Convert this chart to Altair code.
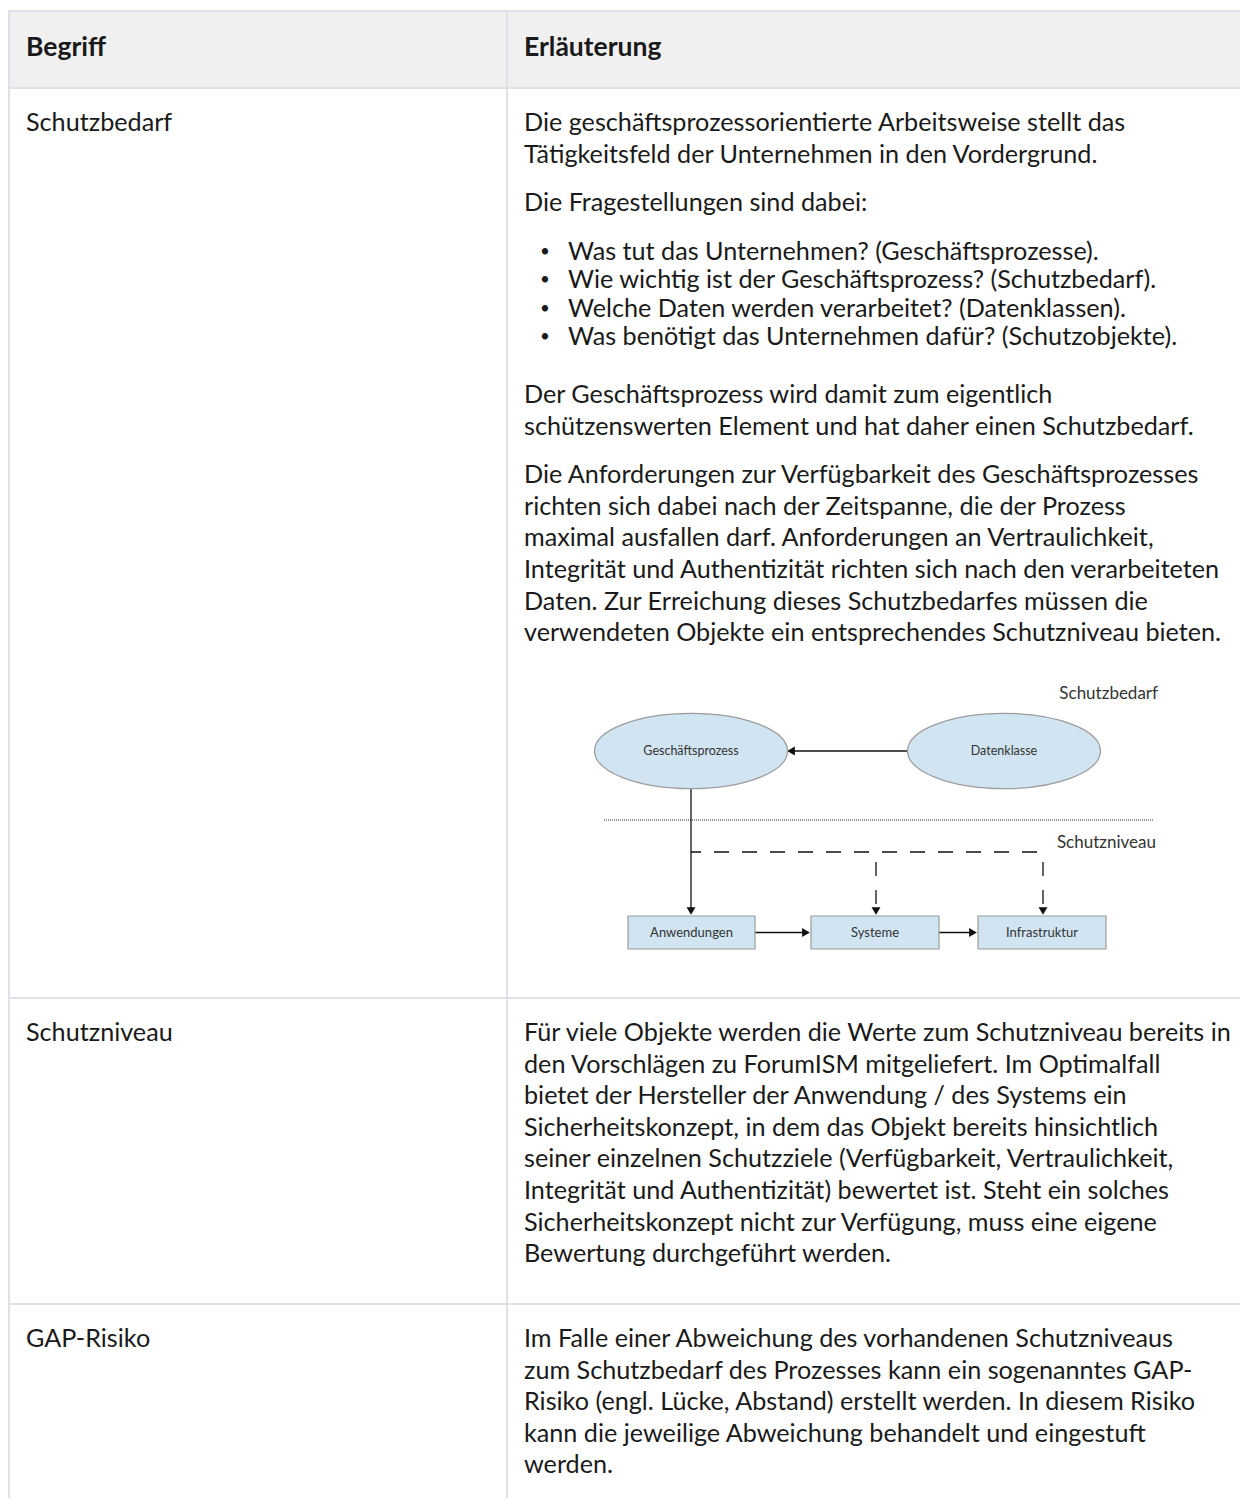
import altair as alt
import pandas as pd

# ---------------- content ----------------
header = ["Begriff", "Erläuterung"]
terms = ["Schutzbedarf", "Schutzniveau", "GAP-Risiko"]

row1_intro = [
    ["Die geschäftsprozessorientierte Arbeitsweise stellt das",
     "Tätigkeitsfeld der Unternehmen in den Vordergrund."],
    ["Die Fragestellungen sind dabei:"],
]
row1_bullets = [
    "Was tut das Unternehmen? (Geschäftsprozesse).",
    "Wie wichtig ist der Geschäftsprozess? (Schutzbedarf).",
    "Welche Daten werden verarbeitet? (Datenklassen).",
    "Was benötigt das Unternehmen dafür? (Schutzobjekte).",
]
row1_outro = [
    ["Der Geschäftsprozess wird damit zum eigentlich",
     "schützenswerten Element und hat daher einen Schutzbedarf."],
    ["Die Anforderungen zur Verfügbarkeit des Geschäftsprozesses",
     "richten sich dabei nach der Zeitspanne, die der Prozess",
     "maximal ausfallen darf. Anforderungen an Vertraulichkeit,",
     "Integrität und Authentizität richten sich nach den verarbeiteten",
     "Daten. Zur Erreichung dieses Schutzbedarfes müssen die",
     "verwendeten Objekte ein entsprechendes Schutzniveau bieten."],
]
row2_lines = [
    "Für viele Objekte werden die Werte zum Schutzniveau bereits in",
    "den Vorschlägen zu ForumISM mitgeliefert. Im Optimalfall",
    "bietet der Hersteller der Anwendung / des Systems ein",
    "Sicherheitskonzept, in dem das Objekt bereits hinsichtlich",
    "seiner einzelnen Schutzziele (Verfügbarkeit, Vertraulichkeit,",
    "Integrität und Authentizität) bewertet ist. Steht ein solches",
    "Sicherheitskonzept nicht zur Verfügung, muss eine eigene",
    "Bewertung durchgeführt werden.",
]
row3_lines = [
    "Im Falle einer Abweichung des vorhandenen Schutzniveaus",
    "zum Schutzbedarf des Prozesses kann ein sogenanntes GAP-",
    "Risiko (engl. Lücke, Abstand) erstellt werden. In diesem Risiko",
    "kann die jeweilige Abweichung behandelt und eingestuft",
    "werden.",
]

# diagram content
diagram_levels = ["Schutzbedarf", "Schutzniveau"]
ellipse_nodes = ["Geschäftsprozess", "Datenklasse"]
box_nodes = ["Anwendungen", "Systeme", "Infrastruktur"]

# ---------------- layout (page pixels) ----------------
W, H = 1232, 1490
X0, Y0 = 8, 8
TABLE_RIGHT = X0 + W
row_edges = [10, 88, 998, 1304, Y0 + H]
col_div = 507
LEFT_TX, RIGHT_TX = 26, 524
BULLET_X, BULLET_TX = 540, 568
FIRST = 35
LH, GAP, LIST_LH, LIST_AFTER = 31.6, 17.0, 28.5, 26.1

FONT = "Lato"
FS = 25.2
HFS = 26.5
TXT = "#1a1a1a"
BORDER = "#dfe1e6"

xs = alt.Scale(domain=[X0, X0 + W], nice=False, zero=False)
ys = alt.Scale(domain=[Y0, Y0 + H], reverse=True, nice=False, zero=False)
X = lambda f="x": alt.X(f"{f}:Q", scale=xs, axis=None)
Y = lambda f="y": alt.Y(f"{f}:Q", scale=ys, axis=None)

# ---------------- build body text ----------------
body = []
bullets = []
# row 1
y = row_edges[1] + FIRST
for pi, para in enumerate(row1_intro):
    if pi > 0:
        y += LH + GAP
    for li, line in enumerate(para):
        if li > 0:
            y += LH
        body.append({"text": line, "x": RIGHT_TX, "y": y})
y += LH + GAP
for bi, line in enumerate(row1_bullets):
    if bi > 0:
        y += LIST_LH
    body.append({"text": line, "x": BULLET_TX, "y": y})
    bullets.append({"text": "•", "x": BULLET_X, "y": y})
y += LH + LIST_AFTER
for pi, para in enumerate(row1_outro):
    if pi > 0:
        y += LH + GAP
    for li, line in enumerate(para):
        if li > 0:
            y += LH
        body.append({"text": line, "x": RIGHT_TX, "y": y})
# rows 2, 3
for top, lines in [(row_edges[2], row2_lines), (row_edges[3], row3_lines)]:
    for li, line in enumerate(lines):
        body.append({"text": line, "x": RIGHT_TX, "y": top + FIRST + li * LH})
# left column terms
for ri, term in enumerate(terms):
    body.append({"text": term, "x": LEFT_TX, "y": row_edges[ri + 1] + FIRST})

body_df = pd.DataFrame(body)
bullet_df = pd.DataFrame(bullets)
head_df = pd.DataFrame({"text": header, "x": [LEFT_TX, RIGHT_TX],
                        "y": [(row_edges[0] + row_edges[1]) / 2 - 1] * 2})

# ---------------- table chrome ----------------
head_bg = pd.DataFrame({"x": [X0], "x2": [TABLE_RIGHT], "y": [row_edges[0]], "y2": [row_edges[1]]})
hlines = pd.DataFrame({"x": [X0] * 4, "x2": [TABLE_RIGHT] * 4,
                       "y": [row_edges[0] + 1, row_edges[1], row_edges[2], row_edges[3]]})
hlines["y2"] = hlines["y"]
vlines = pd.DataFrame({"x": [X0 + 1, col_div], "y": [row_edges[0], row_edges[0]],
                       "y2": [row_edges[4], row_edges[4]]})
vlines["x2"] = vlines["x"]

# ---------------- diagram ----------------
ell_cy = 751
ell_df = pd.DataFrame({"text": ellipse_nodes, "x": [691, 1004], "y": [ell_cy, ell_cy]})
box_y1, box_y2 = 916, 949
box_df = pd.DataFrame({"text": box_nodes, "x": [628, 811, 978], "x2": [755, 939, 1106],
                       "y": [box_y1] * 3, "y2": [box_y2] * 3})
box_df["cx"] = (box_df["x"] + box_df["x2"]) / 2
box_df["cy"] = (box_y1 + box_y2) / 2
level_df = pd.DataFrame({"text": diagram_levels, "x": [1158, 1156], "y": [694, 843]})

solid_df = pd.DataFrame({
    "x": [908, 691, 755, 939], "x2": [792, 691, 805, 972],
    "y": [751, 789, 932.5, 932.5], "y2": [751, 910, 932.5, 932.5]})
dash_h = pd.DataFrame({"x": [691], "x2": [1043], "y": [852], "y2": [852]})
dash_v = pd.DataFrame({"x": [876, 1043], "x2": [876, 1043], "y": [862, 862], "y2": [908, 908]})
dotted = pd.DataFrame({"x": [604], "x2": [1153], "y": [820], "y2": [820]})
heads = pd.DataFrame({
    "x": [791, 691, 876, 1043, 806, 973],
    "y": [751, 911, 911, 911, 932.5, 932.5],
    "shape": ["triangle-left", "triangle-down", "triangle-down", "triangle-down",
              "triangle-right", "triangle-right"]})

k = 0.39
c = 0.5523
ellipse_path = (f"M-1,0 C-1,{-c*k:.4f} {-c:.4f},{-k} 0,{-k} "
                f"C{c:.4f},{-k} 1,{-c*k:.4f} 1,0 "
                f"C1,{c*k:.4f} {c:.4f},{k} 0,{k} "
                f"C{-c:.4f},{k} -1,{c*k:.4f} -1,0 Z")

NODE_FILL = "#d0e4f2"
NODE_STROKE = "#9c9c9c"
DFONT = "Lato"

layers = [
    alt.Chart(head_bg).mark_rect(color="#f0f0f0").encode(x=X(), x2="x2:Q", y=Y(), y2="y2:Q"),
    alt.Chart(hlines).mark_rule(color=BORDER, strokeWidth=2).encode(x=X(), x2="x2:Q", y=Y(), y2="y2:Q"),
    alt.Chart(vlines).mark_rule(color=BORDER, strokeWidth=2).encode(x=X(), x2="x2:Q", y=Y(), y2="y2:Q"),
    alt.Chart(head_df).mark_text(align="left", baseline="middle", font=FONT, fontSize=HFS,
                                 fontWeight="bold", color=TXT).encode(x=X(), y=Y(), text="text:N"),
    alt.Chart(body_df).mark_text(align="left", baseline="middle", font=FONT, fontSize=FS,
                                 color=TXT).encode(x=X(), y=Y(), text="text:N"),
    alt.Chart(bullet_df).mark_text(align="left", baseline="middle", font=FONT, fontSize=17,
                                   color=TXT).encode(x=X(), y=Y(), text="text:N"),
    # diagram
    alt.Chart(dotted).mark_rule(color="#333333", strokeWidth=1, strokeDash=[1, 1]).encode(
        x=X(), x2="x2:Q", y=Y(), y2="y2:Q"),
    alt.Chart(solid_df).mark_rule(color="#111111", strokeWidth=1.3).encode(
        x=X(), x2="x2:Q", y=Y(), y2="y2:Q"),
    alt.Chart(dash_h).mark_rule(color="#111111", strokeWidth=1.3, strokeDash=[15, 13],
                                strokeDashOffset=5).encode(x=X(), x2="x2:Q", y=Y(), y2="y2:Q"),
    alt.Chart(dash_v).mark_rule(color="#111111", strokeWidth=1.3, strokeDash=[14, 14]).encode(
        x=X(), x2="x2:Q", y=Y(), y2="y2:Q"),
    alt.Chart(heads).mark_point(filled=True, color="#111111", opacity=1, size=80).encode(
        x=X(), y=Y(), shape=alt.Shape("shape:N", scale=None, legend=None)),
    alt.Chart(ell_df).mark_point(shape=ellipse_path, size=193 * 193, filled=True,
                                 fill=NODE_FILL, stroke=NODE_STROKE, strokeWidth=1.2,
                                 opacity=1, fillOpacity=1).encode(x=X(), y=Y()),
    alt.Chart(box_df).mark_rect(fill=NODE_FILL, stroke=NODE_STROKE, strokeWidth=1.2).encode(
        x=X(), x2="x2:Q", y=Y(), y2="y2:Q"),
    alt.Chart(ell_df).mark_text(align="center", baseline="middle", font=DFONT, fontSize=12.5,
                                color="#333333").encode(x=X(), y=Y(), text="text:N"),
    alt.Chart(box_df).mark_text(align="center", baseline="middle", font=DFONT, fontSize=13,
                                color="#333333").encode(x=X("cx"), y=Y("cy"), text="text:N"),
    alt.Chart(level_df).mark_text(align="right", baseline="middle", font=DFONT, fontSize=17,
                                  color="#333333").encode(x=X(), y=Y(), text="text:N"),
]

chart = alt.layer(*layers).properties(
    width=W, height=H, padding=0, autosize="none", background="white"
).configure_view(stroke=None)

chart.save("out.html", embed_options={"renderer": "svg", "actions": False})
